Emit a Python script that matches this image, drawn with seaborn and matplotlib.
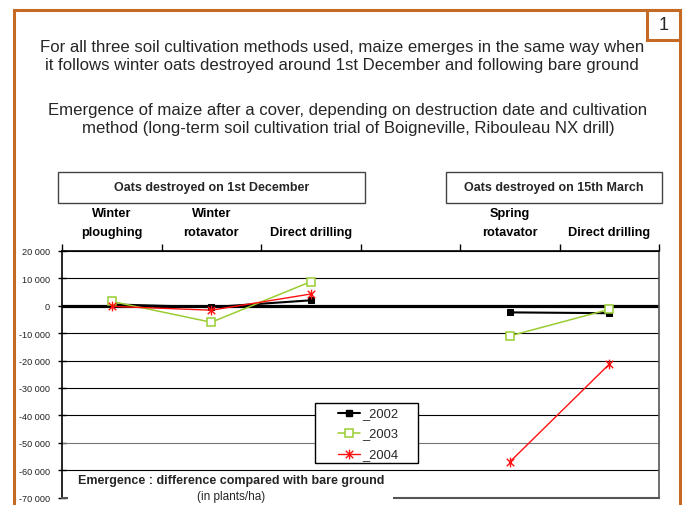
import matplotlib
matplotlib.use("Agg")
import matplotlib.pyplot as plt
from matplotlib.patches import Rectangle
from matplotlib.path import Path
from matplotlib.lines import Line2D
import numpy as np
import pandas as pd
import seaborn as sns

# ---- data ----------------------------------------------------------------
categories = ["Winter\nploughing", "Winter\nrotavator", "Direct drilling", "",
              "Spring\nrotavator", "Direct drilling"]
years = ["_2002", "_2003", "_2004"]
# emergence difference vs bare ground (plants/ha); NaN = no treatment
values_2002 = [500, -500, 2000, np.nan, -2400, -2700]
values_2003 = [1600, -6000, 8800, np.nan, -11000, -1300]
values_2004 = [-200, -1600, 4300, np.nan, -57000, -21300]
period_labels = ["Oats destroyed on 1st December", "Oats destroyed on 15th March"]
yticks = list(range(20000, -70001, -10000))

# ---- styling ---------------------------------------------------------------
sns.set_theme(style="white")
plt.rcParams["font.family"] = ["Liberation Sans", "DejaVu Sans"]

W, H = 687, 506
fig = plt.figure(figsize=(W / 100, H / 100), dpi=100)


def fx(x):
    return x / W


def fy(y):
    return 1 - y / H


# star marker (X with a vertical bar)
star = Path([(-1, -1), (1, 1), (-1, 1), (1, -1), (0, -1.3), (0, 1.3)],
            [Path.MOVETO, Path.LINETO, Path.MOVETO, Path.LINETO, Path.MOVETO, Path.LINETO])

styles = {
    "_2002": dict(color="black", marker="s", markersize=5, mfc="black", mec="black", lw=1.5),
    "_2003": dict(color="#9ACD32", marker="s", markersize=6, mfc="white", mec="#9ACD32", lw=1.1, mew=1.1),
    "_2004": dict(color="#FF1010", marker=star, markersize=7, mfc="none", mec="#FF1010", lw=1.0, mew=1.0),
}

# ---- axes ------------------------------------------------------------------
x0, x1, ytop, ybot = 62, 659, 252, 498.6
ax = fig.add_axes([fx(x0), fy(ybot), fx(x1) - fx(x0), fy(ytop) - fy(ybot)])
ax.set_facecolor("white")

rows = []
for yr, vals in zip(years, [values_2002, values_2003, values_2004]):
    for i, v in enumerate(vals):
        rows.append(dict(year=yr, pos=i, value=v, period=0 if i < 3 else 1))
df = pd.DataFrame(rows).dropna()

ax.set_xlim(-0.5, 5.5)
ax.set_ylim(-70000, 20000)

for yv in yticks:
    if yv == 0:
        continue
    ax.axhline(yv, color="#777777" if yv == -50000 else "black", lw=0.8, zorder=1)
ax.axhline(0, color="black", lw=2.3, zorder=2)

for yr in years:
    for per in (0, 1):
        sub = df[(df.year == yr) & (df.period == per)]
        sns.lineplot(data=sub, x="pos", y="value", ax=ax, estimator=None,
                     sort=False, legend=False, zorder=3, **styles[yr])

# category axis along the top
ax.xaxis.tick_top()
ax.set_xticks(np.arange(6))
ax.set_xticklabels(categories, fontsize=9.2, fontweight="bold", color="black",
                   linespacing=1.75)
ax.set_xticks(np.arange(-0.5, 6.0, 1.0), minor=True)
ax.tick_params(axis="x", which="major", length=0, pad=9.5)
ax.tick_params(axis="x", which="minor", length=5, width=1.0, color="black",
               direction="out", top=True, bottom=False)
ax.set_xlabel("")
ax.set_ylabel("")

ax.set_yticks(yticks)
ax.set_yticklabels([f"{v:,}".replace(",", " ") for v in yticks], fontsize=6.6, color="#222222")
ax.tick_params(axis="y", length=6, width=1.0, color="black", direction="inout",
               left=True, pad=5.5)

for side in ("top", "left"):
    ax.spines[side].set_color("black")
    ax.spines[side].set_linewidth(1.2)
ax.spines["right"].set_color("#555555")
ax.spines["right"].set_linewidth(1.2)
ax.spines["bottom"].set_color("#555555")
ax.spines["bottom"].set_linewidth(1.5)

# legend box
fig.patches.append(Rectangle((fx(315), fy(464)), fx(418) - fx(315), fy(404) - fy(464),
                             transform=fig.transFigure, facecolor="white",
                             edgecolor="black", lw=1.0, zorder=5))
for k, (yr, ly) in enumerate(zip(years, [414, 434, 455])):
    st = styles[yr]
    fig.add_artist(Line2D([fx(338), fx(360)], [fy(ly), fy(ly)], color=st["color"],
                          lw=st["lw"], transform=fig.transFigure, zorder=6))
    fig.add_artist(Line2D([fx(349)], [fy(ly)], marker=st["marker"], markersize=st["markersize"],
                          mfc=st["mfc"], mec=st["mec"], mew=st.get("mew", 1.0),
                          lw=0, transform=fig.transFigure, zorder=7))
    fig.text(fx(362), fy(ly), yr, ha="left", va="center", fontsize=9.3, zorder=7)

# axis caption at the bottom
fig.patches.append(Rectangle((fx(68), fy(506)), fx(393) - fx(68), fy(474) - fy(506),
                             transform=fig.transFigure, facecolor="white",
                             edgecolor="none", zorder=4))
fig.text(fx(231), fy(481), "Emergence : difference compared with bare ground",
         ha="center", va="center", fontsize=9, fontweight="bold", zorder=6)
fig.text(fx(231), fy(497), "(in plants/ha)", ha="center", va="center", fontsize=8.5,
         zorder=6)

# ---- period boxes ----------------------------------------------------------
for (bx0, bx1), label in zip([(58, 365), (446, 662)], period_labels):
    fig.patches.append(Rectangle((fx(bx0), fy(204)), fx(bx1) - fx(bx0), fy(173) - fy(204),
                                 transform=fig.transFigure, facecolor="white",
                                 edgecolor="#444444", lw=1.0))
    fig.text(fx((bx0 + bx1) / 2), fy(188.5), label, ha="center", va="center",
             fontsize=9, fontweight="bold")

# ---- titles ----------------------------------------------------------------
fig.text(fx(342), fy(56.5),
         "For all three soil cultivation methods used, maize emerges in the same way when\n"
         "it follows winter oats destroyed around 1st December and following bare ground",
         ha="center", va="center", fontsize=12.05, linespacing=1.2)
fig.text(fx(348), fy(119.5),
         "Emergence of maize after a cover, depending on destruction date and cultivation\n"
         "method (long-term soil cultivation trial of Boigneville, Ribouleau NX drill)",
         ha="center", va="center", fontsize=12.05, linespacing=1.2)

# ---- outer frame and page number ------------------------------------------
frame_col = "#C46A24"
fig.patches.append(Rectangle((fx(14), fy(520)), fx(680) - fx(14), fy(11) - fy(520),
                             transform=fig.transFigure, facecolor="none",
                             edgecolor=frame_col, lw=2.2))
fig.patches.append(Rectangle((fx(647), fy(41)), fx(680) - fx(647), fy(11) - fy(41),
                             transform=fig.transFigure, facecolor="white",
                             edgecolor=frame_col, lw=2.2))
fig.text(fx(663.5), fy(26), "1", ha="center", va="center", fontsize=13)

fig.savefig("out.png", dpi=100)
